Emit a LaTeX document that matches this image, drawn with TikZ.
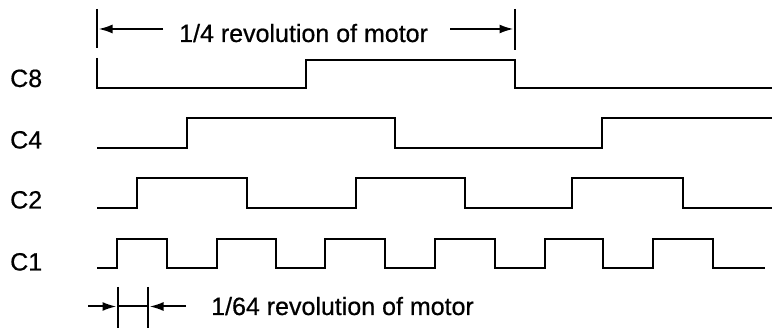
\documentclass[tikz,border=0pt]{standalone}
\usepackage{fontspec}
\setmainfont{Liberation Sans}[FakeBold=0.6]
\usetikzlibrary{arrows.meta}
\begin{document}
\begin{tikzpicture}[x=1pt,y=-1pt,
  sig/.style={line width=2.9pt, line join=miter},
  tick/.style={line width=2.4pt},
  dim/.style={line width=2pt, -{Latex[length=14pt,width=9pt]}},
  lbl/.style={font=\fontsize{25}{29}\selectfont, inner sep=0pt, anchor=base west},
  ]
\useasboundingbox (0,0) rectangle (773,328);
% labels
\node[lbl] (c8) at (10,87) {C8};
\node[lbl] (c4) at (10,148.5) {C4};
\node[lbl] (c2) at (10,208.5) {C2};
\node[lbl] (c1) at (10,270.5) {C1};
% top dimension
\coordinate (tlt) at (97,9);  \coordinate (tlb) at (97,48);
\coordinate (trt) at (515,9); \coordinate (trb) at (515,50);
\draw[tick] (tlt) -- (tlb);
\draw[tick] (trt) -- (trb);
\node[lbl] (toptext) at (179,42) {1/4 revolution of motor};
\coordinate (la) at (163,29); \coordinate (lat) at (98.5,29);
\coordinate (ra) at (450,29); \coordinate (rat) at (513.5,29);
\draw[dim] (la) -- (lat);
\draw[dim] (ra) -- (rat);
% signals
\draw[sig] (97,58) -- (97,88) -- (306,88) -- (306,60) -- (515,60) -- (515,88) -- (772,88);
\draw[sig] (97,148) -- (187,148) -- (187,118) -- (395,118) -- (395,148) -- (602,148) -- (602,118) -- (772,118);
\draw[sig] (97,208) -- (137,208) -- (137,178) -- (247,178) -- (247,208) -- (356,208) -- (356,178) -- (465,178) -- (465,208) -- (572,208) -- (572,178) -- (683,178) -- (683,208) -- (772,208);
\draw[sig] (97,268) -- (117,268) -- (117,239) -- (167,239) -- (167,268) -- (217,268) -- (217,239) -- (276,239) -- (276,268) -- (325,268) -- (325,239) -- (385,239) -- (385,268) -- (435,268) -- (435,239) -- (495,239) -- (495,268) -- (545,268) -- (545,239) -- (603,239) -- (603,268) -- (653,268) -- (653,239) -- (713,239) -- (713,268) -- (765,268);
% bottom dimension
\coordinate (blt) at (118,287); \coordinate (blb) at (118,328);
\coordinate (brt) at (148,287); \coordinate (brb) at (148,328);
\draw[tick] (blt) -- (blb);
\draw[tick] (brt) -- (brb);
\coordinate (bm1) at (118,306.5); \coordinate (bm2) at (148,306.5);
\draw[line width=2pt] (bm1) -- (bm2);
\coordinate (ba) at (88,306.5); \coordinate (bat) at (116.5,306.5);
\coordinate (bb) at (186,306.5); \coordinate (bbt) at (149.5,306.5);
\draw[dim] (ba) -- (bat);
\draw[dim] (bb) -- (bbt);
\node[lbl] (bottext) at (211,315) {1/64 revolution of motor};
\end{tikzpicture}
\end{document}
